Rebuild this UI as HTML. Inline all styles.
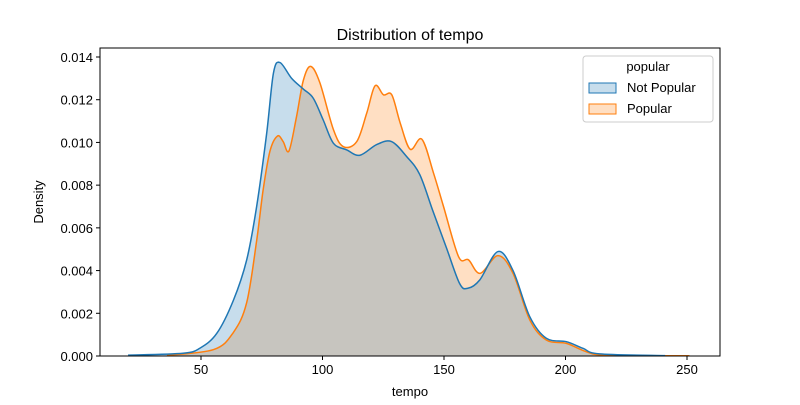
<!DOCTYPE html>
<html><head><meta charset="utf-8"><style>
body{margin:0;background:#fff;}
svg text{font-family:"Liberation Sans","DejaVu Sans",sans-serif;}
</style></head><body>
<svg id="chart" width="800" height="400" xmlns="http://www.w3.org/2000/svg">
<rect width="800" height="400" fill="#fff"/>
<g id="areas"></g>
<g id="axes"></g>
<text x="410" y="40" text-anchor="middle" font-size="16">Distribution of tempo</text>
<text x="410" y="396" text-anchor="middle" font-size="13">tempo</text>
<text transform="translate(43,202) rotate(-90)" text-anchor="middle" font-size="13">Density</text>
<g>
<rect x="583" y="56" width="130" height="66" rx="3" fill="#fff" fill-opacity="0.8" stroke="#ccc"/>
<text x="648" y="71" text-anchor="middle" font-size="13">popular</text>
<rect x="589" y="83" width="27" height="10" fill="rgba(31,119,180,0.25)" stroke="#1f77b4"/>
<text x="627" y="92" font-size="13">Not Popular</text>
<rect x="589" y="104" width="27" height="10" fill="rgba(255,127,14,0.25)" stroke="#ff7f0e"/>
<text x="627" y="113" font-size="13">Popular</text>
</g>
</svg>
<script>
const notPopTempo=[20,42.6,49.6,56.5,63.3,68.8,72.9,77,79.8,82.5,87.3,92.1,96.2,100.3,104.5,110,115.4,122.3,128.4,134.6,140,145.4,150.9,156.4,159.8,164.7,172.2,178.4,185.3,192.1,200.4,207.2,214,241];
const notPopDensity=[0.00004,0.00013,0.00037,0.00106,0.0026,0.0045,0.007,0.0104,0.01324,0.01374,0.0130,0.0125,0.01207,0.01105,0.00996,0.00965,0.0094,0.0099,0.01004,0.00934,0.0085,0.0068,0.0051,0.0034,0.00317,0.00356,0.00489,0.0040,0.00184,0.00083,0.00067,0.00036,0.0001,0.00002];
const popTempo=[36,55.2,63.3,68.8,72.9,75.6,78.4,81.5,83.8,86.2,89.3,92.1,95.1,98.9,104.5,108.6,114.1,118.2,121.6,125.1,128.5,132,136.1,140.9,145.7,149.8,156,160.1,164.9,172.2,178.4,185.3,192.1,200.4,208.6,216.8,251];
const popDensity=[0.00003,0.0003,0.0011,0.0025,0.0054,0.0078,0.0096,0.0103,0.01004,0.0096,0.0112,0.0129,0.01356,0.0128,0.0106,0.0098,0.01004,0.01137,0.01265,0.01223,0.01223,0.0109,0.00968,0.01015,0.00856,0.007,0.00465,0.0045,0.00387,0.0047,0.00387,0.00169,0.00075,0.00059,0.0002,0.00004,0.00001];
const xTicks=[50,100,150,200,250];
const yTicks=[0,0.002,0.004,0.006,0.008,0.010,0.012,0.014];

const L=100,R=720,T=48,B=356;
const sx=v=>201+(v-50)*(322.5-201)/50;
const sy=v=>B-v*(B-57)/0.014;
const NS="http://www.w3.org/2000/svg";
function mk(t,a){const e=document.createElementNS(NS,t);for(const k in a)e.setAttribute(k,a[k]);return e;}
function smooth(xs,ys){
  const p=xs.map((x,i)=>[sx(x),sy(ys[i])]);
  let d=`M${p[0][0]},${p[0][1]}`;
  for(let i=0;i<p.length-1;i++){
    const p0=p[Math.max(0,i-1)],p1=p[i],p2=p[i+1],p3=p[Math.min(p.length-1,i+2)];
    const c1=[p1[0]+(p2[0]-p0[0])/6,p1[1]+(p2[1]-p0[1])/6];
    const c2=[p2[0]-(p3[0]-p1[0])/6,p2[1]-(p3[1]-p1[1])/6];
    d+=`C${c1[0]},${c1[1]} ${c2[0]},${c2[1]} ${p2[0]},${p2[1]}`;
  }
  return d;
}
const areas=document.getElementById('areas');
const series=[[popTempo,popDensity,'#ff7f0e','popular'],[notPopTempo,notPopDensity,'#1f77b4','not-popular']];
series.forEach(([xs,ys,c,n])=>{
  const line=smooth(xs,ys);
  const fill=mk('path',{d:line+`L${sx(xs[xs.length-1])},${B}L${sx(xs[0])},${B}Z`,fill:c,'fill-opacity':0.25,stroke:'none'});
  
  
  areas.appendChild(fill);
});
series.forEach(([xs,ys,c,n])=>{
  const ln=mk('path',{d:smooth(xs,ys),fill:'none',stroke:c,'stroke-width':1.5});
  
  
  areas.appendChild(ln);
});
const ax=document.getElementById('axes');
const frame=mk('rect',{x:L,y:T,width:R-L,height:B-T,fill:'none',stroke:'#000','stroke-width':1});


ax.appendChild(frame);
xTicks.forEach(v=>{
  const x=sx(v);
  ax.appendChild(mk('line',{x1:x,x2:x,y1:B,y2:B+4,stroke:'#000'}));
  const t=mk('text',{x:x,y:B+18,'text-anchor':'middle','font-size':13});
  t.textContent=v;
  
  
  ax.appendChild(t);
});
yTicks.forEach(v=>{
  const y=sy(v);
  ax.appendChild(mk('line',{x1:L-4,x2:L,y1:y,y2:y,stroke:'#000'}));
  const t=mk('text',{x:L-7,y:y+5,'text-anchor':'end','font-size':13});
  t.textContent=v.toFixed(3);
  
  
  ax.appendChild(t);
});
</script>
</body></html>
